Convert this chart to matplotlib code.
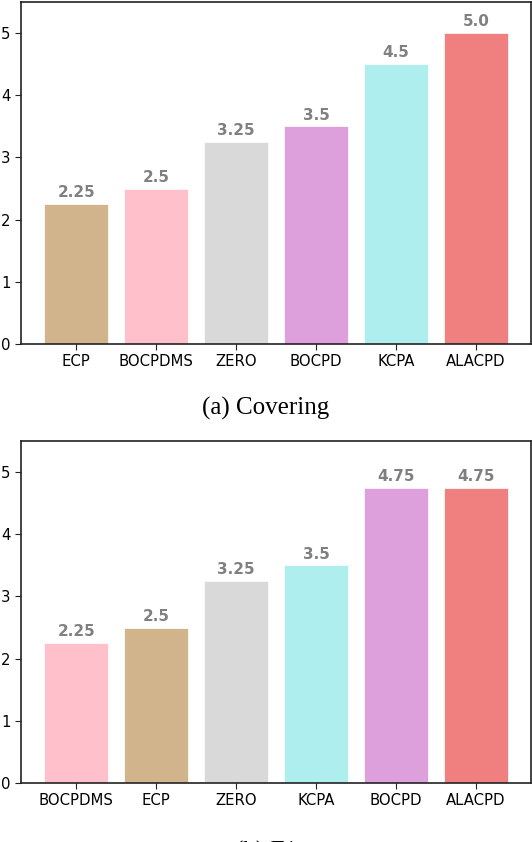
import matplotlib.pyplot as plt

# Covering scores
cov_names = ['ECP', 'BOCPDMS', 'ZERO', 'BOCPD', 'KCPA', 'ALACPD']
cov_vals = [2.25, 2.5, 3.25, 3.5, 4.5, 5.0]
cov_labels = ['2.25', '2.5', '3.25', '3.5', '4.5', '5.0']
cov_colors = ['tan', 'pink', '#d9d9d9', 'plum', 'paleturquoise', 'lightcoral']

# F1 scores
f1_names = ['BOCPDMS', 'ECP', 'ZERO', 'KCPA', 'BOCPD', 'ALACPD']
f1_vals = [2.25, 2.5, 3.25, 3.5, 4.75, 4.75]
f1_labels = ['2.25', '2.5', '3.25', '3.5', '4.75', '4.75']
f1_colors = ['pink', 'tan', '#d9d9d9', 'paleturquoise', 'plum', 'lightcoral']

fig = plt.figure(figsize=(5.32, 8.42), dpi=100)
W, H = 532, 842


def panel(rect, names, vals, labels, colors, caption, cap_y):
    ax = fig.add_axes(rect)
    x = range(len(names))
    ax.bar(x, vals, width=0.8, color=colors, edgecolor='white', linewidth=0.5)
    for i, v in enumerate(vals):
        ax.text(i, v + 0.06, labels[i], ha='center', va='bottom',
                color='grey', fontweight='bold', fontsize=11)
    ax.set_xticks(list(x))
    ax.set_xticklabels(names, fontsize=10.7)
    ax.set_ylim(0, 5.5)
    ax.set_yticks([0, 1, 2, 3, 4, 5])
    ax.tick_params(labelsize=10.7, length=4, color='#222222')
    for s in ax.spines.values():
        s.set_color('#222222')
        s.set_linewidth(1.2)
    fig.text(0.5, cap_y, caption, ha='center', va='center',
             family='Liberation Serif', fontsize=18)
    return ax


panel([21 / W, 1 - 344 / H, 510 / W, 342 / H], cov_names, cov_vals,
      cov_labels, cov_colors, '(a) Covering', 1 - 408 / H)
panel([21 / W, 1 - 783 / H, 510 / W, 342 / H], f1_names, f1_vals,
      f1_labels, f1_colors, '(b) F1', 1 - 852 / H)

fig.savefig('out.png', dpi=100)
